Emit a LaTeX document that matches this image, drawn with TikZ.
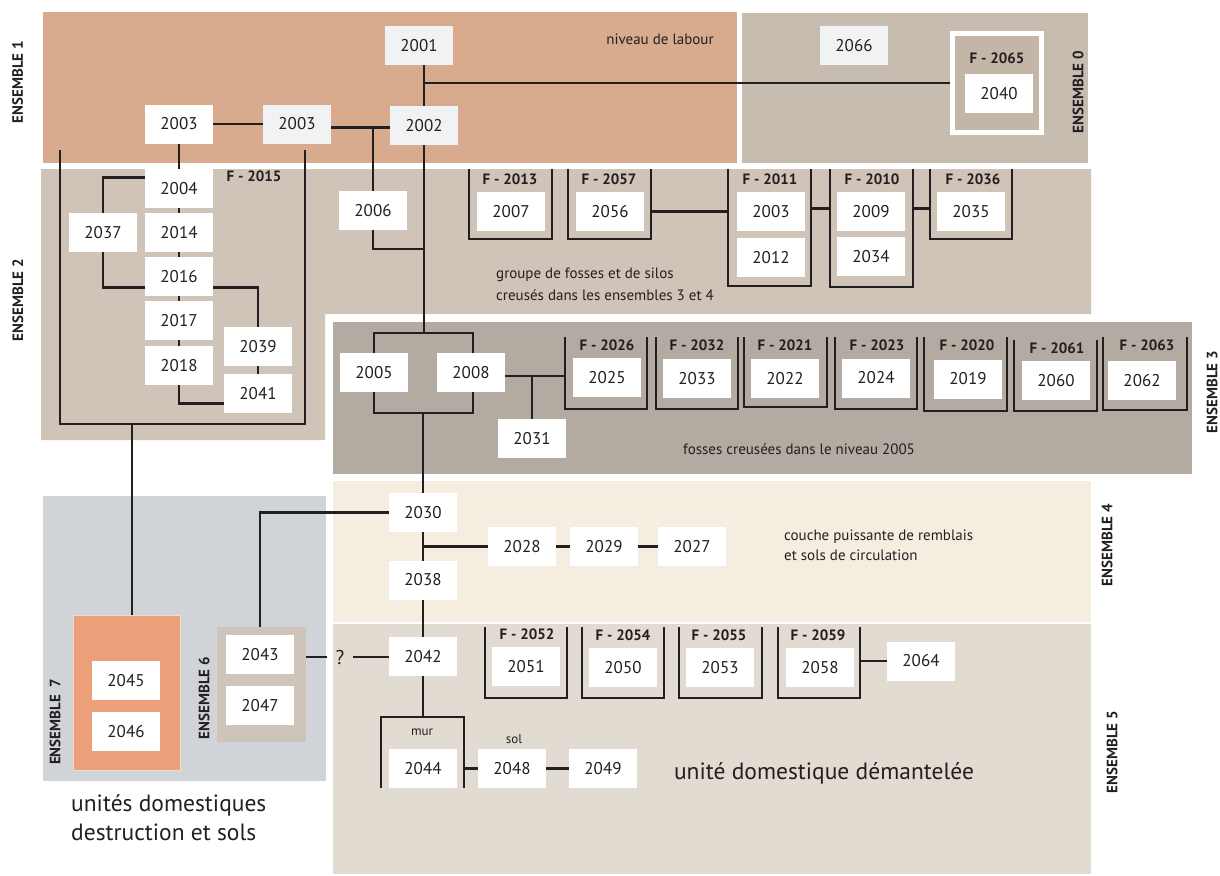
\documentclass[tikz,border=0pt]{standalone}
\usepackage{fontspec}
\setmainfont{PT Sans}
\usetikzlibrary{calc}
\definecolor{ensA}{RGB}{216,171,142}
\definecolor{ensO}{RGB}{199,188,176}
\definecolor{ensB}{RGB}{208,196,184}
\definecolor{ensC}{RGB}{179,170,162}
\definecolor{ensD}{RGB}{245,238,224}
\definecolor{ensE}{RGB}{226,219,209}
\definecolor{ensF}{RGB}{208,211,216}
\definecolor{ensG}{RGB}{235,160,122}
\definecolor{ensGb}{RGB}{247,218,198}
\definecolor{ensH}{RGB}{206,196,185}
\definecolor{lgray}{RGB}{241,242,244}
\definecolor{ink}{RGB}{35,31,32}
\definecolor{frO}{RGB}{196,182,166}
\pgfdeclarelayer{bg}\pgfdeclarelayer{lines}\pgfsetlayers{bg,lines,main}
\tikzset{
 num/.style={fill=white, minimum width=68pt, minimum height=39pt, inner sep=0pt, outer sep=0pt, font=\fontsize{17}{19}\selectfont, text=ink},
 gnum/.style={num, fill=lgray},
 lnk/.style={draw=ink, line width=2.8pt},
 frm/.style={inner sep=0pt, outer sep=0pt, minimum width=83pt},
 ftitle/.style={font=\bfseries\fontsize{15}{17}\selectfont, text=ink, inner sep=0pt},
 enslab/.style={font=\bfseries\fontsize{15}{17}\selectfont, rotate=90, text=ink, inner sep=0pt},
 note/.style={font=\fontsize{15}{22}\selectfont, text=ink, inner sep=0pt, align=left},
 bignote/.style={font=\fontsize{23.5}{29}\selectfont, text=ink, inner sep=0pt, align=left},
}
\newcommand\ufr[1]{\draw[lnk] (#1.north west) -- (#1.south west) -- (#1.south east) -- (#1.north east);}
\newcommand\nfr[1]{\draw[lnk] (#1.south west) -- (#1.north west) -- (#1.north east) -- (#1.south east);}
\begin{document}
\begin{tikzpicture}[x=1pt,y=-1pt]
\useasboundingbox (0,0) rectangle (1220,875);
% regions
\begin{pgfonlayer}{bg}
\fill[ensA] (43,12) rectangle (737,163);
\fill[ensO] (742,13) rectangle (1088,163);
\fill[ensB] (41,169) -- (1091,169) -- (1091,314) -- (325,314) -- (325,440) -- (41,440) -- cycle;
\fill[ensC] (333,322) rectangle (1192,474);
\fill[ensD] (333,481) rectangle (1091,622);
\fill[ensE] (333,624) rectangle (1091,874);
\fill[ensF] (43,496) rectangle (326,781);
\end{pgfonlayer}

% ensemble 1 / 0
\node[gnum] (n2001) at (419,45.5) {2001};
\node[gnum] (n2002) at (424,125.5) {2002};
\node[num] (n2003a) at (179,124) {2003};
\node[gnum] (n2003b) at (297,124) {2003};
\node[gnum] (n2066) at (854,45.5) {2066};
\node[draw=white, line width=5pt, fill=frO, minimum width=89pt, minimum height=99pt, inner sep=0pt] (f2065) at (997,83) {};
\node[ftitle] (t2065) at (997,58) {F - 2065};
\node[num] (n2040) at (999,93.5) {2040};
\node[note] (labour) at (660,39) {niveau de labour};
\node[enslab] (e1) at (17.5,82) {ENSEMBLE 1};
\node[enslab] (e0) at (1078,92) {ENSEMBLE 0};

% ensemble 2
\node[num] (n2004) at (179,188.5) {2004};
\node[num] (n2014) at (179,232.5) {2014};
\node[num] (n2016) at (179,276.5) {2016};
\node[num] (n2017) at (179,320.5) {2017};
\node[num] (n2018) at (179,365.5) {2018};
\node[num] (n2037) at (103,232.5) {2037};
\node[num] (n2039) at (258,346.5) {2039};
\node[num] (n2041) at (258,393.5) {2041};
\node[ftitle] (t2015) at (254,176) {F - 2015};
\node[num] (n2006) at (373,210.5) {2006};
\node[enslab] (e2) at (18,300) {ENSEMBLE 2};

\node[frm, minimum height=70pt] (f2013) at (510.5,204) {};
\node[ftitle] (t2013) at (510,179) {F - 2013};
\node[num] (n2007) at (511,211.5) {2007};
\node[frm, minimum height=70pt] (f2057) at (609.5,204) {};
\node[ftitle] (t2057) at (609,179) {F - 2057};
\node[num] (n2056) at (610,211.5) {2056};
\node[frm, minimum height=117pt] (f2011) at (769.5,227.5) {};
\node[ftitle] (t2011) at (770,179) {F - 2011};
\node[num] (n2003c) at (771,211.5) {2003};
\node[num] (n2012) at (771,257.5) {2012};
\node[frm, minimum height=118pt] (f2010) at (871.5,228) {};
\node[ftitle] (t2010) at (872,179) {F - 2010};
\node[num] (n2009) at (871,211.5) {2009};
\node[num] (n2034) at (871,256.5) {2034};
\node[frm, minimum height=70pt, minimum width=82pt] (f2036) at (971,204) {};
\node[ftitle] (t2036) at (973,179) {F - 2036};
\node[num] (n2035) at (971,211.5) {2035};
\node[note, anchor=west] (grp) at (496,284) {groupe de fosses et de silos\\creusés dans les ensembles 3 et 4};

% ensemble 3
\node[num] (n2005) at (374,372.5) {2005};
\node[num] (n2008) at (471,372.5) {2008};
\node[num] (n2031) at (532,438.5) {2031};
\node[frm, minimum height=72pt, minimum width=82pt] (f2026) at (606,373) {};
\node[ftitle] (t2026) at (607,345) {F - 2026};
\node[num] (n2025) at (607,377.5) {2025};
\node[frm, minimum height=72pt, minimum width=82pt] (f2032) at (697,373) {};
\node[ftitle] (t2032) at (697,345) {F - 2032};
\node[num] (n2033) at (697,378.5) {2033};
\node[frm, minimum height=70pt] (f2021) at (785.5,372) {};
\node[ftitle] (t2021) at (785,345) {F - 2021};
\node[num] (n2022) at (785,378.5) {2022};
\node[frm, minimum height=72pt, minimum width=82pt] (f2023) at (876,373) {};
\node[ftitle] (t2023) at (877,345) {F - 2023};
\node[num] (n2024) at (876,378) {2024};
\node[frm, minimum height=74pt] (f2020) at (965.5,374) {};
\node[ftitle] (t2020) at (967,345) {F - 2020};
\node[num] (n2019) at (968,379) {2019};
\node[frm, minimum height=71pt] (f2061) at (1055.5,375.5) {};
\node[ftitle] (t2061) at (1057,348) {F - 2061};
\node[num] (n2060) at (1056,380.5) {2060};
\node[frm, minimum height=73pt, minimum width=84pt] (f2063) at (1145,373.5) {};
\node[ftitle] (t2063) at (1147,345) {F - 2063};
\node[num] (n2062) at (1142,380.5) {2062};
\node[note] (fos) at (799,449) {fosses creusées dans le niveau 2005};
\node[enslab] (e3) at (1212,392) {ENSEMBLE 3};

% ensemble 4
\node[num] (n2030) at (423,512.5) {2030};
\node[num] (n2038) at (423,580) {2038};
\node[num] (n2028) at (522,546.5) {2028};
\node[num] (n2029) at (604,546.5) {2029};
\node[num] (n2027) at (692,546.5) {2027};
\node[note, anchor=west, font=\fontsize{15}{20}\selectfont] (cou) at (784,545) {couche puissante de remblais\\et sols de circulation};
\node[enslab] (e4) at (1107,545) {ENSEMBLE 4};

% ensemble 5
\node[num] (n2042) at (423,656.5) {2042};
\node[inner sep=0pt, minimum width=26pt, font=\fontsize{20}{22}\selectfont, text=ink] (q) at (340,657) {?};
\node[frm, minimum height=71pt, minimum width=82pt] (f2052) at (526,662.5) {};
\node[ftitle] (t2052) at (527,634) {F - 2052};
\node[num] (n2051) at (526,666.5) {2051};
\node[frm, minimum height=71pt, minimum width=82pt] (f2054) at (623,662.5) {};
\node[ftitle] (t2054) at (623,635) {F - 2054};
\node[num] (n2050) at (623,667.5) {2050};
\node[frm, minimum height=71pt] (f2055) at (720.5,662.5) {};
\node[ftitle] (t2055) at (719,635) {F - 2055};
\node[num] (n2053) at (720,667.5) {2053};
\node[frm, minimum height=71pt, minimum width=82pt] (f2059) at (819,662.5) {};
\node[ftitle] (t2059) at (818,635) {F - 2059};
\node[num] (n2058) at (820,667.5) {2058};
\node[num] (n2064) at (921,661) {2064};
\node[frm, minimum height=71pt] (mur) at (422.5,752.5) {};
\node[font=\fontsize{13}{15}\selectfont, text=ink, inner sep=0pt] (murt) at (422,732) {mur};
\node[num] (n2044) at (423,768.5) {2044};
\node[font=\fontsize{13}{15}\selectfont, text=ink, inner sep=0pt] (solt) at (514,739) {sol};
\node[num] (n2048) at (512,768.5) {2048};
\node[num] (n2049) at (603,768.5) {2049};
\node[bignote] (dem) at (824,773) {unité domestique démantelée};
\node[enslab] (e5) at (1112,752) {ENSEMBLE 5};

% ensembles 6 / 7
\node[fill=ensG, draw=ensGb, line width=1pt, minimum width=107pt, minimum height=155pt, inner sep=0pt] (e7box) at (127,693) {};
\node[fill=ensH, minimum width=89pt, minimum height=115pt, inner sep=0pt, outer sep=0pt] (e6box) at (261.5,684.5) {};
\node[num] (n2045) at (126,680.5) {2045};
\node[num] (n2046) at (126,731.5) {2046};
\node[num] (n2043) at (260,654.5) {2043};
\node[num] (n2047) at (260,705.5) {2047};
\node[enslab] (e7) at (55,722) {ENSEMBLE\ \ 7};
\node[enslab] (e6) at (204,698) {ENSEMBLE 6};
\node[bignote, anchor=west] (uni) at (71,817.5) {unités domestiques\\destruction et sols};

% connectors
\begin{pgfonlayer}{lines}
\draw[lnk] (n2001.south -| n2002.north) -- (n2002.north);
\draw[lnk] (n2002.north |- f2065.west) -- (f2065.west);
\draw[lnk] (n2003a.east) -- (n2003b.west);
\coordinate (j1) at ([yshift=-3.5pt]n2003b.east);
\draw[lnk] (j1) -- (j1 -| n2002.west);
\draw[lnk] (j1 -| n2006.north) -- (n2006.north);
\coordinate (top3) at (424,333);
\coordinate (j2006) at (424,249);
\coordinate (bot3) at (424,413);
\draw[lnk] (n2002.south) -- (n2002.south |- top3);
\draw[lnk] (n2006.south) |- (j2006);
\draw[lnk] (n2005.north) -- (n2005.north |- top3) -- ([xshift=2pt]n2008.north |- top3) -- ([xshift=2pt]n2008.north);
\draw[lnk] (n2005.south) -- (n2005.south |- bot3) -- ([xshift=2pt]n2008.south |- bot3) -- ([xshift=2pt]n2008.south);
\draw[lnk] (n2030.north |- bot3) -- (n2030.north);
\coordinate (j2008) at ([yshift=-3.5pt]n2008.east);
\draw[lnk] (j2008) -- (j2008 -| f2026.west);
\draw[lnk] (j2008 -| n2031.north) -- (n2031.north);
% ensemble 2 chain
\draw[lnk] (n2003a.south) -- (n2004.north);
\draw[lnk] (n2004.south) -- (n2014.north);
\draw[lnk] (n2014.south) -- (n2016.north);
\draw[lnk] (n2016.south) -- (n2017.north);
\draw[lnk] (n2017.south) -- (n2018.north);
\draw[lnk] (n2018.south) |- ([yshift=-10pt]n2041.west);
\draw[lnk] ([yshift=11pt]n2004.west) -| (n2037.north);
\draw[lnk] (n2037.south) |- ([yshift=-11pt]n2016.west);
\draw[lnk] ([yshift=-11pt]n2016.east) -| (n2039.north);
\draw[lnk] (n2039.south) -- (n2041.north);
\coordinate (cL) at (60,150);
\coordinate (cR) at (305,150);
\coordinate (j7) at (132,424);
\draw[lnk] (cL) |- (cR |- j7) -- (cR);
\draw[lnk] (j7) -- (j7 |- e7box.north);
% frames
\ufr{f2013}\ufr{f2057}\ufr{f2011}\ufr{f2010}\ufr{f2036}
\ufr{f2026}\ufr{f2032}\ufr{f2021}\ufr{f2023}\ufr{f2020}\ufr{f2061}\ufr{f2063}
\ufr{f2052}\ufr{f2054}\ufr{f2055}\ufr{f2059}
\nfr{mur}
\draw[lnk] (n2056.east -| f2057.east) -- (n2056.east -| f2011.west);
\draw[lnk] ([yshift=3pt]n2009.west -| f2011.east) -- ([yshift=3pt]n2009.west -| f2010.west);
\draw[lnk] ([yshift=3pt]n2035.west -| f2010.east) -- ([yshift=3pt]n2035.west -| f2036.west);
% ensemble 4
\draw[lnk] (n2030.south) -- (n2038.north);
\draw[lnk] (n2030.south |- n2028.west) -- (n2028.west);
\draw[lnk] (n2028) -- (n2029);
\draw[lnk] (n2029) -- (n2027);
\draw[lnk] (n2030.west) -| (n2043.north |- e6box.north);
% ensemble 5
\draw[lnk] (n2038.south) -- (n2042.north);
\draw[lnk] (q.west -| e6box.east) -- (q.west);
\draw[lnk] (q.east) -- (q.east -| n2042.west);
\draw[lnk] (n2042.south) -- (n2042.south |- mur.north);
\draw[lnk] (n2048.west -| mur.east) -- (n2048.west);
\draw[lnk] (n2048) -- (n2049);
\draw[lnk] (n2064.west -| f2059.east) -- (n2064.west);
\end{pgfonlayer}
\end{tikzpicture}
\end{document}
